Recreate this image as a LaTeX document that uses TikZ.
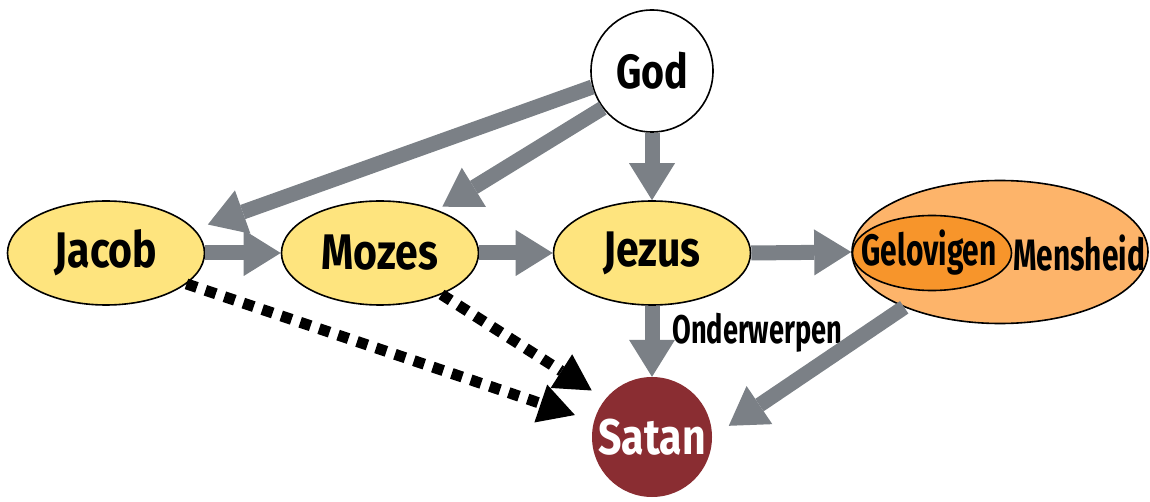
\documentclass[tikz,border=0pt]{standalone}
\usepackage{fontspec}
\setmainfont{Fira Sans}[FakeStretch=0.82]
\newfontfamily\smalfont{Fira Sans}[FakeStretch=0.68]
\usepackage{xcolor}
\usepackage{tikz}
\usetikzlibrary{
  arrows.meta,
  shapes.geometric
}

\definecolor{pijlgrijs}{HTML}{7B8086}
\definecolor{geel}{HTML}{FEE47E}
\definecolor{oranjelicht}{HTML}{FDB46A}
\definecolor{oranje}{HTML}{F7952B}
\definecolor{donkerrood}{HTML}{8A2D32}

\begin{document}
\begin{tikzpicture}[
  x=1pt, y=-1pt,
  persoon/.style={
    ellipse, draw=black, fill=geel, line width=1.6pt,
    minimum width=197pt, minimum height=104pt, inner sep=0pt,
    font=\fontsize{50}{50}\selectfont\bfseries
  },
  pijl/.style={
    -{Triangle[length=37pt, width=46pt, line width=0pt]},
    line width=15pt, draw=pijlgrijs
  },
  stippelpijl/.style={
    -{Triangle[length=36pt, width=40pt, line width=0pt]},
    line width=11pt, draw=black, dash pattern=on 11pt off 9pt
  }
]
  \useasboundingbox (0,0) rectangle (1150,502);

  % knopen
  \node[circle, draw=black, fill=white, line width=1.6pt, minimum size=122pt,
    inner sep=0pt, font=\fontsize{48}{48}\selectfont\bfseries] (god) at (652,71) {God};
  \node[persoon] (jacob) at (106,253) {Jacob};
  \node[persoon] (mozes) at (380,253) {Mozes};
  \node[persoon] (jezus) at (652,253) {Jezus};
  \node[ellipse, draw=black, fill=oranjelicht, line width=1.6pt,
    minimum width=296pt, minimum height=143pt, inner sep=0pt] (mensheid) at (1000,252) {};
  \node[ellipse, draw=black, fill=oranje, line width=1.6pt,
    minimum width=159pt, minimum height=75pt, inner sep=0pt] (gelovigen) at (932,253) {};
  \node[inner sep=0pt, font=\fontsize{44}{44}\smalfont\bfseries]
    (gelovigentekst) at (929,253) {Gelovigen};
  \node[inner sep=0pt, font=\fontsize{44}{44}\smalfont\bfseries]
    (mensheidtekst) at (1079,253) {Mensheid};
  \node[circle, fill=donkerrood, minimum size=120pt, inner sep=0pt, text=white,
    font=\fontsize{50}{50}\selectfont\bfseries] (satan) at (652,437) {Satan};
  \node[anchor=base west, inner sep=0pt, font=\fontsize{40}{40}\smalfont\bfseries]
    (onderwerpen) at (672,343) {Onderwerpen};

  % grijze pijlen
  \draw[pijl, shorten >=14pt] (god.195) -- (jacob.15);
  \draw[pijl, shorten >=6pt] (god.217) -- (mozes.37);
  \draw[pijl] (god.south) -- (jezus.north);
  \draw[pijl] (jacob.east) -- (mozes.west);
  \draw[pijl] (mozes.east) -- (jezus.west);
  \draw[pijl] (jezus.east) -- (mensheid.west);
  \draw[pijl] (jezus.south) -- (satan.north);
  \draw[pijl, shorten >=20pt] (mensheid.210) -- (satan.east);

  % gestippelde pijlen
  \draw[stippelpijl, shorten >=20pt] (jacob.-21) -- (satan.165);
  \draw[stippelpijl, shorten >=16pt] (mozes.-34) -- (satan.141);
\end{tikzpicture}
\end{document}
